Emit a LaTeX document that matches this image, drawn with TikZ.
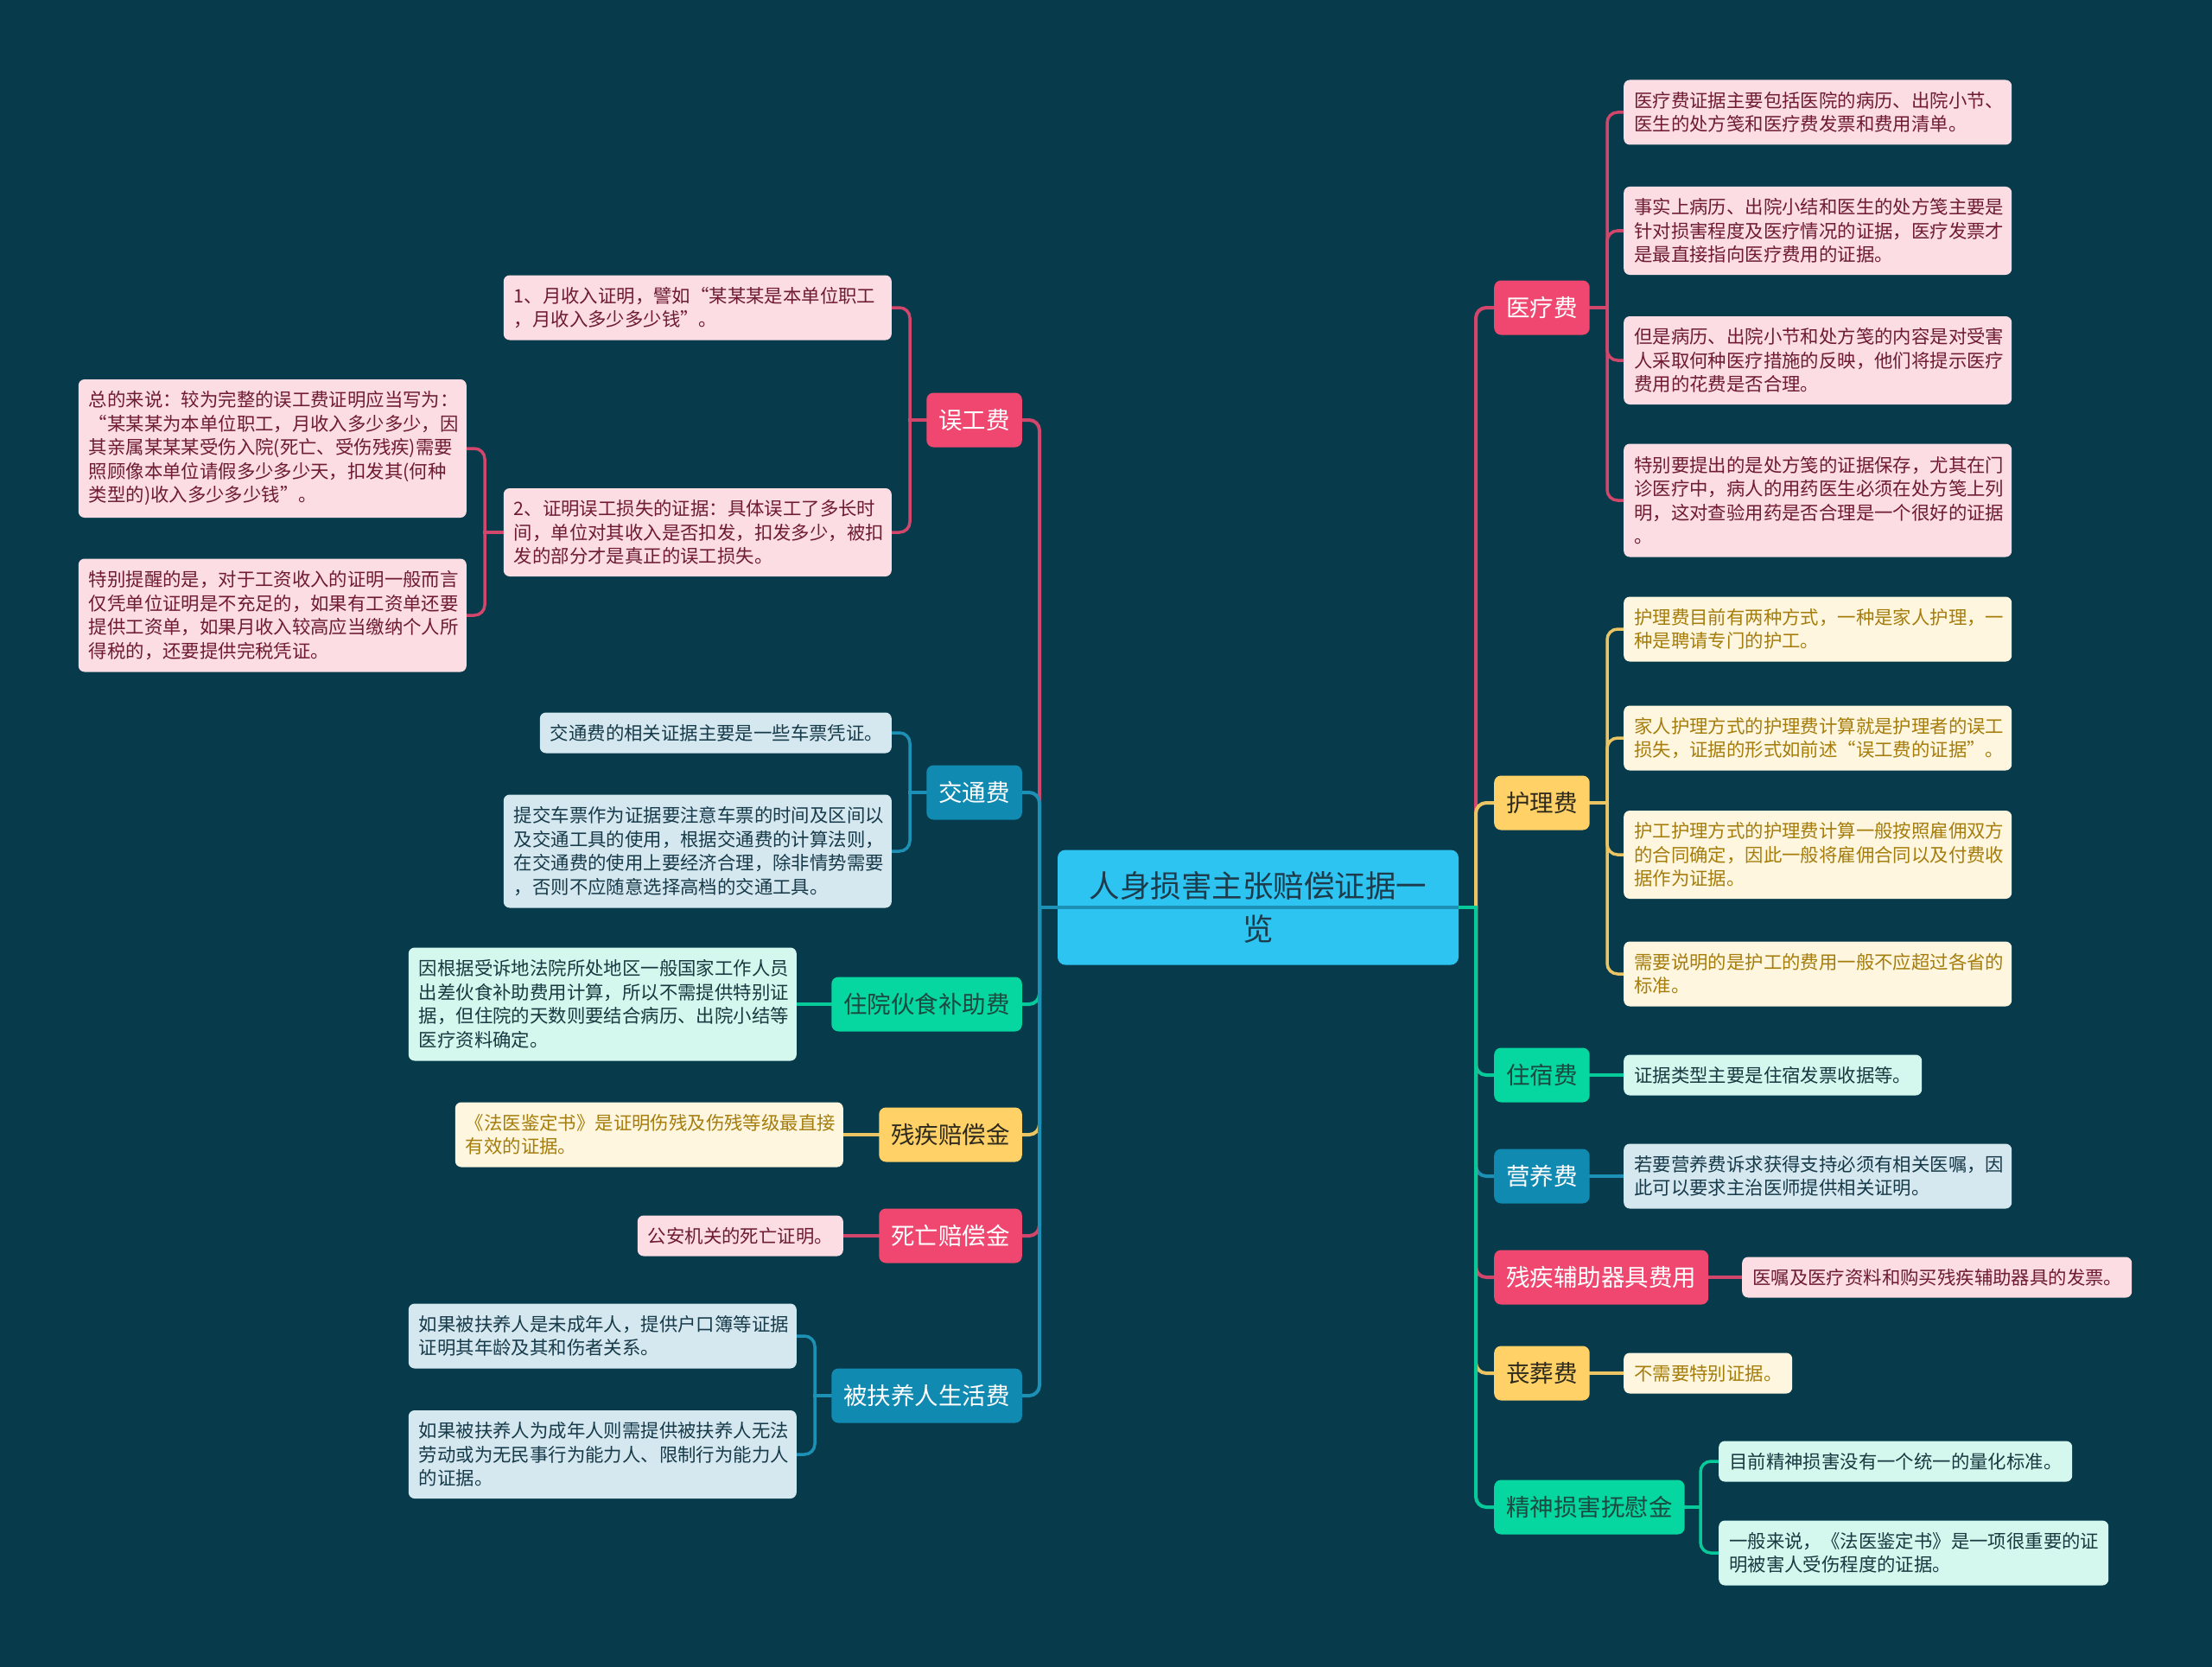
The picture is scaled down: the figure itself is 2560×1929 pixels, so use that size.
\documentclass[tikz,border=0pt]{standalone}
\usepackage{fontspec}
\setmainfont{Noto Sans CJK SC}
\usetikzlibrary{backgrounds}
\definecolor{bg}{HTML}{073B4C}
\definecolor{cred}{HTML}{EF476F}
\definecolor{cyel}{HTML}{FFD166}
\definecolor{cgrn}{HTML}{06D6A0}
\definecolor{cblu}{HTML}{118AB2}
\definecolor{croot}{HTML}{2EC4F2}
\definecolor{rootT}{HTML}{1D3B4A}
\definecolor{pinkL}{HTML}{FCDDE4}
\definecolor{pinkT}{HTML}{6E1B33}
\definecolor{yelL}{HTML}{FFF6DF}
\definecolor{yelT}{HTML}{A57D0C}
\definecolor{grnL}{HTML}{D4F7EE}
\definecolor{grnT}{HTML}{173A40}
\definecolor{bluL}{HTML}{D5E8EF}
\definecolor{bluT}{HTML}{173A4A}
\definecolor{yelBT}{HTML}{2E2A1E}
\definecolor{grnBT}{HTML}{1A4A40}
\newcommand\leaffont{\fontsize{21.4}{27.5}\selectfont}
\newcommand\brfont{\fontsize{27.5}{32}\selectfont}
\newcommand\rootfont{\fontsize{35.5}{50}\selectfont}
\begin{document}
\begin{tikzpicture}[x=1pt,y=-1pt,
  leaf/.style={rounded corners=7pt, inner xsep=12pt, inner ysep=0pt, align=left, font=\leaffont, text width=425pt},
  pk/.style={leaf, fill=pinkL, text=pinkT},
  yl/.style={leaf, fill=yelL, text=yelT},
  gn/.style={leaf, fill=grnL, text=grnT},
  bl/.style={leaf, fill=bluL, text=bluT},
  hA/.style={minimum height=47pt},
  hB/.style={minimum height=75pt},
  hC/.style={minimum height=102pt},
  hD/.style={minimum height=131pt},
  hE/.style={minimum height=160pt},
  br/.style={rounded corners=8pt, inner xsep=14pt, inner ysep=0pt, minimum height=63pt, font=\brfont},
  bred/.style={br, fill=cred, text=white},
  byel/.style={br, fill=cyel, text=yelBT},
  bgrn/.style={br, fill=cgrn, text=grnBT},
  bblu/.style={br, fill=cblu, text=white},
  con/.style={line width=4pt, rounded corners=12pt, line cap=rect},
  sub/.style={line width=3.5pt, rounded corners=12pt, line cap=rect},
  lred/.style={draw=cred!88!bg},
  lyel/.style={draw=cyel!92!bg},
  lgrn/.style={draw=cgrn!92!bg},
  lblu/.style={draw=cblu!95!white},
]
\useasboundingbox (0,0) rectangle (2560,1929);

% trunk coordinates
\coordinate (RT) at (1708,0);
\coordinate (LT) at (1203,0);
\coordinate (ylT) at (1860,0);
\coordinate (hlT) at (1860,0);
\coordinate (jsT) at (1968,0);
\coordinate (wgT) at (1053,0);
\coordinate (wcT) at (561,0);
\coordinate (jtT) at (1053,0);
\coordinate (bfT) at (943,0);

% root
\node[rounded corners=9pt, fill=croot, text=rootT, font=\rootfont, align=center,
      minimum width=464pt, minimum height=133pt, text width=440pt, inner sep=0pt]
      (root) at (1456,1050) {人身损害主张赔偿证据一\\览};

% ---------- right side ----------
\node[bred, anchor=west] (ylf) at (1729,356) {医疗费};
\node[pk, hB, anchor=west] (yl1) at (1879,130) {医疗费证据主要包括医院的病历、出院小节、\\医生的处方笺和医疗费发票和费用清单。};
\node[pk, hC, anchor=west] (yl2) at (1879,267) {事实上病历、出院小结和医生的处方笺主要是\\针对损害程度及医疗情况的证据，医疗发票才\\是最直接指向医疗费用的证据。};
\node[pk, hC, anchor=west] (yl3) at (1879,417) {但是病历、出院小节和处方笺的内容是对受害\\人采取何种医疗措施的反映，他们将提示医疗\\费用的花费是否合理。};
\node[pk, hD, anchor=west] (yl4) at (1879,579) {特别要提出的是处方笺的证据保存，尤其在门\\诊医疗中，病人的用药医生必须在处方笺上列\\明，这对查验用药是否合理是一个很好的证据\\。};

\node[byel, anchor=west] (hlf) at (1729,929) {护理费};
\node[yl, hB, anchor=west] (hl1) at (1879,728) {护理费目前有两种方式，一种是家人护理，一\\种是聘请专门的护工。};
\node[yl, hB, anchor=west] (hl2) at (1879,854) {家人护理方式的护理费计算就是护理者的误工\\损失，证据的形式如前述“误工费的证据”。};
\node[yl, hC, anchor=west] (hl3) at (1879,989) {护工护理方式的护理费计算一般按照雇佣双方\\的合同确定，因此一般将雇佣合同以及付费收\\据作为证据。};
\node[yl, hB, anchor=west] (hl4) at (1879,1127) {需要说明的是护工的费用一般不应超过各省的\\标准。};

\node[bgrn, anchor=west] (zsf) at (1729,1244) {住宿费};
\node[gn, hA, text width=321pt, anchor=west] (zs1) at (1879,1244) {证据类型主要是住宿发票收据等。};

\node[bblu, anchor=west] (yyf) at (1729,1361) {营养费};
\node[bl, hB, anchor=west] (yy1) at (1879,1361) {若要营养费诉求获得支持必须有相关医嘱，因\\此可以要求主治医师提供相关证明。};

\node[bred, anchor=west] (cjf) at (1729,1478) {残疾辅助器具费用};
\node[pk, hA, text width=427pt, anchor=west] (cj1) at (2016,1478) {医嘱及医疗资料和购买残疾辅助器具的发票。};

\node[byel, anchor=west] (szf) at (1729,1589) {丧葬费};
\node[yl, hA, text width=171pt, anchor=west] (sz1) at (1879,1589) {不需要特别证据。};

\node[bgrn, anchor=west] (jsf) at (1729,1744) {精神损害抚慰金};
\node[gn, hA, text width=385pt, anchor=west] (js1) at (1989,1691) {目前精神损害没有一个统一的量化标准。};
\node[gn, hB, text width=427pt, anchor=west] (js2) at (1989,1797) {一般来说，《法医鉴定书》是一项很重要的证\\明被害人受伤程度的证据。};

% ---------- left side ----------
\node[bred, anchor=east] (wgf) at (1183,486) {误工费};
\node[pk, hB, anchor=east] (wg1) at (1032,356) {1、月收入证明，譬如“某某某是本单位职工\\，月收入多少多少钱”。};
\node[pk, hC, anchor=east] (wg2) at (1032,616) {2、证明误工损失的证据：具体误工了多长时\\间，单位对其收入是否扣发，扣发多少，被扣\\发的部分才是真正的误工损失。};
\node[pk, hE, anchor=east] (wc1) at (540,519) {总的来说：较为完整的误工费证明应当写为：\\“某某某为本单位职工，月收入多少多少，因\\其亲属某某某受伤入院(死亡、受伤残疾)需要\\照顾像本单位请假多少多少天，扣发其(何种\\类型的)收入多少多少钱”。};
\node[pk, hD, anchor=east] (wc2) at (540,712) {特别提醒的是，对于工资收入的证明一般而言\\仅凭单位证明是不充足的，如果有工资单还要\\提供工资单，如果月收入较高应当缴纳个人所\\得税的，还要提供完税凭证。};

\node[bblu, anchor=east] (jtf) at (1183,917) {交通费};
\node[bl, hA, text width=383pt, anchor=east] (jt1) at (1032,848) {交通费的相关证据主要是一些车票凭证。};
\node[bl, hD, anchor=east] (jt2) at (1032,985) {提交车票作为证据要注意车票的时间及区间以\\及交通工具的使用，根据交通费的计算法则，\\在交通费的使用上要经济合理，除非情势需要\\，否则不应随意选择高档的交通工具。};

\node[bgrn, anchor=east] (zyf) at (1183,1162) {住院伙食补助费};
\node[gn, hD, anchor=east] (zy1) at (922,1162) {因根据受诉地法院所处地区一般国家工作人员\\出差伙食补助费用计算，所以不需提供特别证\\据，但住院的天数则要结合病历、出院小结等\\医疗资料确定。};

\node[byel, anchor=east] (cpf) at (1183,1313) {残疾赔偿金};
\node[yl, hB, anchor=east] (cp1) at (976,1313) {《法医鉴定书》是证明伤残及伤残等级最直接\\有效的证据。};

\node[bred, anchor=east] (swf) at (1183,1430) {死亡赔偿金};
\node[pk, hA, text width=214pt, anchor=east] (sw1) at (976,1430) {公安机关的死亡证明。};

\node[bblu, anchor=east] (bff) at (1183,1615) {被扶养人生活费};
\node[bl, hB, anchor=east] (bf1) at (922,1546) {如果被扶养人是未成年人，提供户口簿等证据\\证明其年龄及其和伤者关系。};
\node[bl, hC, anchor=east] (bf2) at (922,1683) {如果被扶养人为成年人则需提供被扶养人无法\\劳动或为无民事行为能力人、限制行为能力人\\的证据。};

\begin{pgfonlayer}{background}
\fill[bg] (0,0) rectangle (2560,1929);
% ---------- connectors: right ----------
\draw[con, lred] (RT |- root.east) |- (ylf.west);
\draw[con, lyel] (RT |- root.east) |- (hlf.west);
\draw[con, lgrn] (RT |- root.east) |- (zsf.west);
\draw[con, lblu] (RT |- root.east) |- (yyf.west);
\draw[con, lred] (RT |- root.east) |- (cjf.west);
\draw[con, lyel] (RT |- root.east) |- (szf.west);
\draw[con, lgrn] (RT |- root.east) |- (jsf.west);
\draw[con, lgrn] (root.east) -- (RT |- root.east);

\draw[sub, lred] (ylT |- ylf.east) |- (yl1.west);
\draw[sub, lred] (ylT |- ylf.east) |- (yl2.west);
\draw[sub, lred] (ylT |- ylf.east) |- (yl3.west);
\draw[sub, lred] (ylT |- ylf.east) |- (yl4.west);
\draw[sub, lred] (ylf.east) -- (ylT |- ylf.east);
\draw[sub, lyel] (hlT |- hlf.east) |- (hl1.west);
\draw[sub, lyel] (hlT |- hlf.east) |- (hl2.west);
\draw[sub, lyel] (hlT |- hlf.east) |- (hl3.west);
\draw[sub, lyel] (hlT |- hlf.east) |- (hl4.west);
\draw[sub, lyel] (hlf.east) -- (hlT |- hlf.east);
\draw[sub, lgrn] (zsf.east) -- (zs1.west);
\draw[sub, lblu] (yyf.east) -- (yy1.west);
\draw[sub, lred] (cjf.east) -- (cj1.west);
\draw[sub, lyel] (szf.east) -- (sz1.west);
\draw[sub, lgrn] (jsT |- jsf.east) |- (js1.west);
\draw[sub, lgrn] (jsT |- jsf.east) |- (js2.west);
\draw[sub, lgrn] (jsf.east) -- (jsT |- jsf.east);

% ---------- connectors: left ----------
\draw[con, lred] (LT |- root.east) |- (wgf.east);
\draw[con, lblu] (LT |- root.east) |- (jtf.east);
\draw[con, lgrn] (LT |- root.east) |- (zyf.east);
\draw[con, lyel] (LT |- root.east) |- (cpf.east);
\draw[con, lred] (LT |- root.east) |- (swf.east);
\draw[con, lblu] (LT |- root.east) |- (bff.east);

\draw[sub, lred] (wgT |- wgf.west) |- (wg1.east);
\draw[sub, lred] (wgT |- wgf.west) |- (wg2.east);
\draw[sub, lred] (wgf.west) -- (wgT |- wgf.west);
\draw[sub, lred] (wcT |- wg2.west) |- (wc1.east);
\draw[sub, lred] (wcT |- wg2.west) |- (wc2.east);
\draw[sub, lred] (wg2.west) -- (wcT |- wg2.west);
\draw[sub, lblu] (jtT |- jtf.west) |- (jt1.east);
\draw[sub, lblu] (jtT |- jtf.west) |- (jt2.east);
\draw[sub, lblu] (jtf.west) -- (jtT |- jtf.west);
\draw[sub, lgrn] (zyf.west) -- (zy1.east);
\draw[sub, lyel] (cpf.west) -- (cp1.east);
\draw[sub, lred] (swf.west) -- (sw1.east);
\draw[sub, lblu] (bfT |- bff.west) |- (bf1.east);
\draw[sub, lblu] (bfT |- bff.west) |- (bf2.east);
\draw[sub, lblu] (bff.west) -- (bfT |- bff.west);
\end{pgfonlayer}

% line across the root, drawn over it as in the reference
\draw[con, lblu, line cap=butt] (root.east) -- (LT |- root.east);
\end{tikzpicture}
\end{document}
